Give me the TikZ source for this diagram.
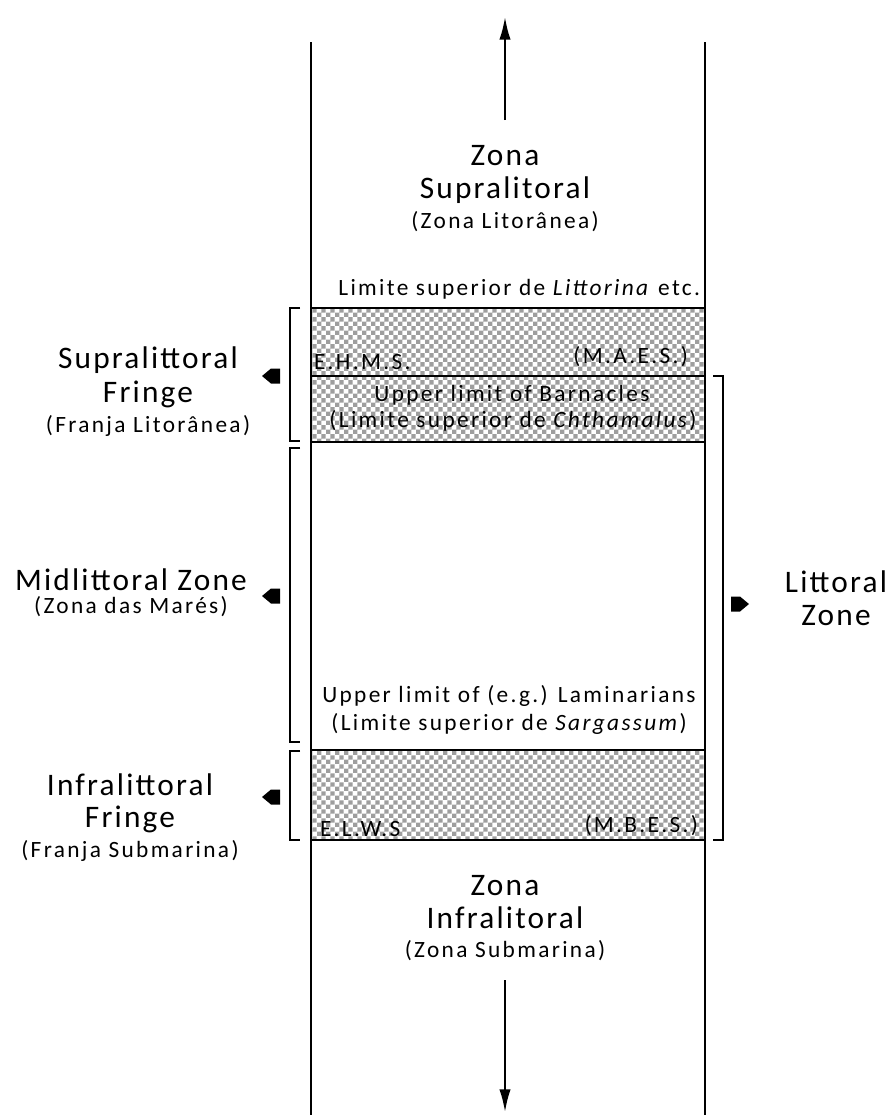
\documentclass[tikz,border=0pt]{standalone}
\usepackage{fontspec}
\setmainfont{Carlito}[LetterSpace=10]
\usetikzlibrary{arrows.meta,patterns}

\pgfdeclarepatternformonly{zonechecker}{\pgfqpoint{0pt}{0pt}}{\pgfqpoint{7pt}{7pt}}{\pgfqpoint{7pt}{7pt}}{%
  \pgfpathrectangle{\pgfpointorigin}{\pgfqpoint{3.5pt}{3.5pt}}%
  \pgfpathrectangle{\pgfqpoint{3.5pt}{3.5pt}}{\pgfqpoint{3.5pt}{3.5pt}}%
  \pgfusepath{fill}}

\tikzset{every picture/.style={line width=1.5pt}}
\tikzset{
  bigtxt/.style={inner sep=0.75pt, font=\fontsize{23.5}{27}\selectfont\addfontfeatures{LetterSpace=7}},
  smalltxt/.style={inner sep=0.75pt, font=\fontsize{17.5}{20}\selectfont},
  band/.style={pattern=zonechecker, pattern color=black!38},
  brace/.style={line width=1.5pt},
  blkarrow/.pic={\fill (0,-7.5) -- (-9,-7.5) -- (-18,0) -- (-9,7.5) -- (0,7.5) -- cycle;}
}

\begin{document}
\begin{tikzpicture}[x=0.75pt,y=0.75pt,yscale=-1,xscale=1]
  \useasboundingbox (0,0) rectangle (892,1115);

  %Shape: checkered bands
  \fill [band] (311,308) rectangle (705,442);
  \fill [band] (311,750) rectangle (705,840);

  %Straight Lines: walls of the shore column
  \draw (311,42) -- (311,1115);
  \draw (705,42) -- (705,1115);
  %Straight Lines: level marks
  \draw (311,308) -- (705,308);
  \draw (311,376) -- (705,376);
  \draw (311,442) -- (705,442);
  \draw (311,750) -- (705,750);
  \draw (311,840) -- (705,840);

  %Straight Lines: vertical arrows
  \coordinate (upfoot) at (505,120);
  \coordinate (uptip) at (505,17);
  \coordinate (downfoot) at (505,980);
  \coordinate (downtip) at (505,1112);
  \draw [-{Latex[length=17pt,width=8.5pt]}] (upfoot) -- (uptip);
  \draw [-{Latex[length=17pt,width=8.5pt]}] (downfoot) -- (downtip);

  %Brackets
  \draw [brace] (300,308) -- (290,308) -- (290,441) -- (300,441);
  \draw [brace] (300,448) -- (290,448) -- (290,742) -- (300,742);
  \draw [brace] (300,751) -- (290,751) -- (290,840) -- (300,840);
  \draw [brace] (713,376) -- (723,376) -- (723,840) -- (713,840);

  %Shape: block arrows
  \pic at (280,376) {blkarrow};
  \pic at (280,596) {blkarrow};
  \pic at (280,797) {blkarrow};
  \pic [xscale=-1] at (731,604) {blkarrow};

  % Text Node
  \node [bigtxt] (zonaS) at (505,156) {Zona};
  \node [bigtxt] (supra) at (505,190) {Supralitoral};
  \node [smalltxt] (supraP) at (505,222) {(Zona Litorânea)};
  % Text Node
  \node [smalltxt, anchor=east] (littorina) at (702,289) {Limite superior de \textit{Littorina} etc.};
  \node [smalltxt, anchor=west] (ehms) at (312,362) {E.H.M.S.};
  \node [smalltxt, anchor=east] (maes) at (690,357) {(M.A.E.S.)};
  \node [smalltxt] (barn) at (512,395) {Upper limit of Barnacles};
  \node [smalltxt] (chtham) at (513,421) {(Limite superior de \textit{Chthamalus})};
  \node [smalltxt] (lamin) at (509,696) {Upper limit of (e.g.) Laminarians};
  \node [smalltxt] (sarg) at (509,724) {(Limite superior de \textit{Sargassum})};
  \node [smalltxt, anchor=west] (elws) at (318,829) {E.L.W.S};
  \node [smalltxt, anchor=east] (mbes) at (700,826) {(M.B.E.S.)};
  % Text Node
  \node [bigtxt] (zonaI) at (505,886) {Zona};
  \node [bigtxt] (infra) at (505,918) {Infralitoral};
  \node [smalltxt] (infraP) at (505,951) {(Zona Submarina)};
  % Text Node
  \node [bigtxt] (suprafr) at (148,360) {Supralittoral};
  \node [bigtxt] (suprafr2) at (148,394) {Fringe};
  \node [smalltxt] (suprafrP) at (148,426) {(Franja Litorânea)};
  \node [bigtxt] (midz) at (131,580) {Midlittoral Zone};
  \node [smalltxt] (midzP) at (131,607) {(Zona das Marés)};
  \node [bigtxt] (infrafr) at (130,785) {Infralittoral};
  \node [bigtxt] (infrafr2) at (130,819) {Fringe};
  \node [smalltxt] (infrafrP) at (130,851) {(Franja Submarina)};
  \node [bigtxt] (litz) at (836,582) {Littoral};
  \node [bigtxt] (litz2) at (836,616) {Zone};
\end{tikzpicture}
\end{document}
